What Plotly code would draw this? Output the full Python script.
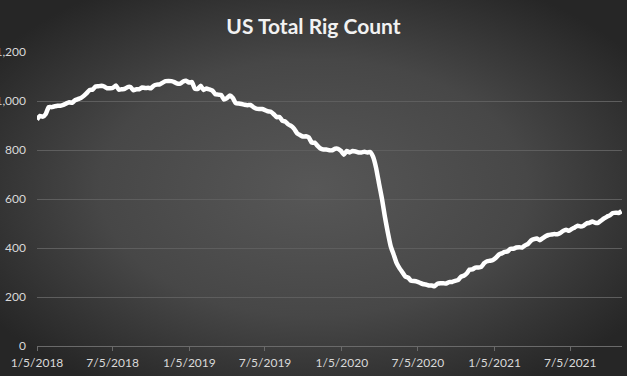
import base64
import pandas as pd
import plotly.graph_objects as go

# ---- data (weekly) ----
start_date = "2018-01-05"
rigs_2018 = [924, 939, 936, 947, 975, 975, 978, 981, 981, 984,
             990, 995, 993, 1003, 1008, 1012, 1021, 1032, 1045, 1046,
             1059, 1060, 1062, 1059, 1052, 1052, 1054, 1063, 1046, 1048,
             1049, 1057, 1057, 1044, 1048, 1048, 1055, 1053, 1054, 1052,
             1063, 1067, 1068, 1075, 1081, 1082, 1081, 1077, 1071, 1071,
             1080, 1083]
rigs_2019 = [1075, 1078, 1050, 1049, 1062, 1045, 1051, 1047, 1043, 1027,
             1026, 1025, 1006, 1012, 1022, 1012, 991, 990, 988, 985,
             983, 984, 975, 969, 967, 967, 963, 958, 956, 946,
             934, 935, 919, 916, 904, 898, 886, 868, 861, 855,
             856, 851, 830, 830, 817, 806, 802, 802, 799, 799,
             805, 805]
rigs_2020 = [796, 781, 796, 790, 796, 794, 790, 790, 793, 790,
             792, 772, 728, 664, 602, 529, 465, 408, 374, 339,
             318, 301, 284, 279, 266, 265, 263, 258, 253, 251,
             247, 247, 244, 254, 256, 256, 255, 261, 261, 266,
             269, 282, 287, 296, 312, 313, 320, 320, 323, 338,
             346, 348]
rigs_2021 = [351, 360, 373, 378, 384, 386, 397, 397, 402, 403,
             402, 411, 417, 430, 436, 439, 432, 440, 448, 453,
             455, 457, 456, 461, 470, 475, 470, 478, 484, 491,
             488, 491, 500, 503, 508, 503, 503, 512, 521, 528,
             533, 543, 544, 543, 550]
rig_count = rigs_2018 + rigs_2019 + rigs_2020 + rigs_2021
dates = pd.date_range(start_date, periods=len(rig_count), freq="7D")

x_tick_dates = ["2018-01-05", "2018-07-05", "2019-01-05", "2019-07-05",
                "2020-01-05", "2020-07-05", "2021-01-05", "2021-07-05"]
x_tick_labels = ["1/5/2018", "7/5/2018", "1/5/2019", "7/5/2019",
                 "1/5/2020", "7/5/2020", "1/5/2021", "7/5/2021"]
y_ticks = [0, 200, 400, 600, 800, 1000, 1200]
title = "US Total Rig Count"

# ---- layout geometry ----
W, H = 627, 376
ML, MR, MT, MB = 37, 5, 52, 30
PW, PH = W - ML - MR, H - MT - MB

svg = (
    f'<svg xmlns="http://www.w3.org/2000/svg" width="{W}" height="{H}" '
    f'viewBox="0 0 {W} {H}" preserveAspectRatio="none">'
    '<defs><radialGradient id="g" cx="50%" cy="50%" r="62%">'
    '<stop offset="0" stop-color="#575757"/>'
    '<stop offset="0.55" stop-color="#474747"/>'
    '<stop offset="1" stop-color="#262626"/>'
    '</radialGradient></defs>'
    f'<rect width="{W}" height="{H}" fill="url(#g)"/></svg>'
)
bg_src = "data:image/svg+xml;base64," + base64.b64encode(svg.encode()).decode()

fig = go.Figure()
fig.add_trace(go.Scatter(
    x=dates, y=rig_count, mode="lines",
    line=dict(color="#ffffff", width=4.5, shape="spline", smoothing=0.4),
    hoverinfo="x+y", showlegend=False,
))

fig.update_layout(
    width=W, height=H,
    margin=dict(l=ML, r=MR, t=MT, b=MB, pad=0, autoexpand=False),
    paper_bgcolor="#3a3a3a",
    plot_bgcolor="rgba(0,0,0,0)",
    font=dict(family="Lato, Carlito, 'Open Sans', sans-serif", color="#d9d9d9", size=12),
    title=dict(text=f"<b>{title}</b>", x=0.5, xref="container", xanchor="center",
               y=1 - 27 / H, yref="container", yanchor="middle",
               font=dict(size=21, color="#f2f2f2")),
    images=[dict(source=bg_src, xref="paper", yref="paper",
                 x=-ML / PW, y=1 + MT / PH, sizex=W / PW, sizey=H / PH,
                 xanchor="left", yanchor="top", sizing="stretch", layer="below")],
    xaxis=dict(
        range=["2018-01-05", "2021-11-06"], automargin=False,
        tickmode="array", tickvals=x_tick_dates, ticktext=x_tick_labels,
        showgrid=False, zeroline=False,
        showline=True, linecolor="#6a6a6a", linewidth=1,
        ticks="outside", ticklen=4, tickcolor="#6a6a6a", tickwidth=1,
        tickfont=dict(size=12, color="#d9d9d9"),
        ticklabelstandoff=2,
    ),
    yaxis=dict(
        range=[0, 1200], automargin=False, tickmode="array", tickvals=y_ticks,
        tickformat=",", showgrid=True, gridcolor="#5e5e5e", gridwidth=1,
        zeroline=False, showline=False, ticks="",
        tickfont=dict(size=12, color="#d9d9d9"),
        ticklabelstandoff=10,
    ),
)

fig.write_html(
    "out.html",
    config={"displayModeBar": False},
    post_script="document.body.style.margin='0';document.body.style.overflow='hidden';",
)
